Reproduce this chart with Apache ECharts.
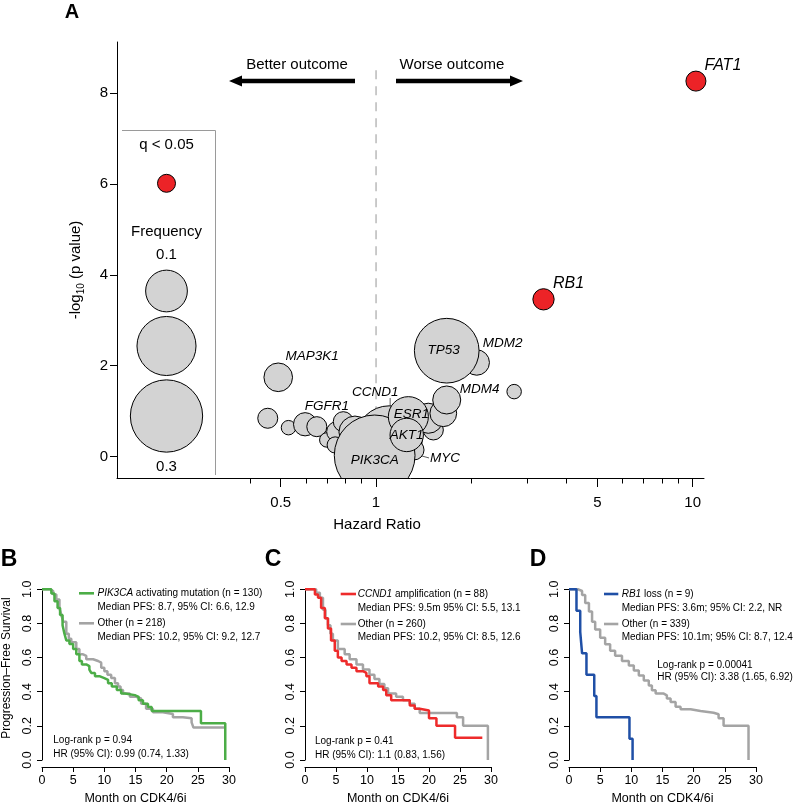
<!DOCTYPE html>
<html><head><meta charset="utf-8">
<script src="https://cdn.jsdelivr.net/npm/echarts@6/dist/echarts.min.js"></script>
<style>html,body{margin:0;padding:0;background:#fff}#c{width:800px;height:806px}</style>
</head><body><div id="c"></div>
<script>
// ================= DATA =================
// Panel A: gene-level Cox results (bubble chart)
const genes = ['', '', '', '', '', '', '', '', 'FGFR1', '', '', '', 'MDM4', 'CCND1', 'MYC', 'PIK3CA', 'ESR1', 'AKT1', 'MDM2', 'TP53', 'MAP3K1', '', 'RB1', 'FAT1'];
const hazardRatio = [0.455, 0.529, 0.597, 0.650, 0.699, 0.751, 0.788, 0.743, 0.858, 1.517, 1.462, 1.631, 1.672, 1.10, 1.318, 0.99, 1.265, 1.25, 2.08, 1.672, 0.491, 2.73, 3.38, 10.24];
const negLog10P   = [0.844, 0.637, 0.712, 0.659, 0.367, 0.549, 0.769, 0.257, 0.54, 0.587, 0.844, 0.954, 1.246, 0.387, 0.147, 0.027, 0.879, 0.477, 2.07, 2.33, 1.745, 1.43, 3.46, 8.26];
const frequency   = [0.023, 0.012, 0.031, 0.023, 0.012, 0.023, 0.023, 0.015, 0.059, 0.023, 0.052, 0.041, 0.045, 0.253, 0.023, 0.374, 0.092, 0.064, 0.037, 0.24, 0.047, 0.012, 0.026, 0.023];
const qSignificant = [0,0,0,0,0,0,0,0,0,0,0,0,0,0,0,0,0,0,0,0,0,0,1,1];
const legendFreqs = [0.1, 0.2, 0.3];
const yTicksA = [0, 2, 4, 6, 8];
const hrMajorTicks = [0.5, 1, 5, 10];
const hrMinorTicks = [0.4, 0.6, 0.7, 0.8, 0.9, 2, 3, 4, 6, 7, 8, 9];
const hrRange = [0.152, 10.86];
const negLogPRange = [-0.47, 9.12];
const refHR = 1;
const refLineTop = 8.5;

// Panel B: PIK3CA activating mutation vs other
const pik3caMonths = [0, 1.5, 2.0, 2.5, 2.9, 3.3, 3.6, 3.9, 4.4, 5.0, 5.5, 6.0, 6.4, 7.1, 7.6, 7.9, 8.5, 9.3, 10.0, 10.6, 11.2, 12.0, 12.7, 13.3, 14.9, 15.5, 16.2, 17.0, 17.6, 25.5, 29.4];
const pik3caSurv   = [1, 0.976, 0.93, 0.89, 0.85, 0.79, 0.74, 0.70, 0.68, 0.65, 0.62, 0.58, 0.56, 0.55, 0.53, 0.51, 0.49, 0.48, 0.47, 0.45, 0.43, 0.41, 0.39, 0.38, 0.37, 0.35, 0.33, 0.31, 0.287, 0.215, 0];
const otherBMonths = [0, 1.3, 1.8, 2.3, 2.8, 3.1, 3.4, 3.9, 4.3, 4.7, 5.5, 6.0, 6.5, 7.1, 8.2, 9.0, 9.5, 10.0, 10.5, 11.1, 11.7, 12.2, 12.6, 13.0, 14.1, 15.1, 15.9, 16.7, 17.8, 19.4, 21.0, 22.6, 24.0, 24.3, 29.4];
const otherBSurv   = [1, 0.99, 0.97, 0.94, 0.89, 0.85, 0.81, 0.74, 0.71, 0.69, 0.65, 0.62, 0.61, 0.59, 0.58, 0.57, 0.54, 0.52, 0.50, 0.48, 0.45, 0.43, 0.41, 0.39, 0.37, 0.36, 0.33, 0.30, 0.28, 0.27, 0.25, 0.245, 0.22, 0.19, 0.19];

// Panel C: CCND1 amplification vs other
const ccnd1Months = [0, 1.6, 2.1, 2.6, 3.2, 3.7, 4.2, 4.8, 5.3, 5.9, 6.7, 7.5, 8.3, 9.35, 9.9, 10.4, 11.8, 12.6, 13.1, 13.9, 16.9, 17.7, 18.5, 20.0, 21.2, 24.2, 28.6];
const ccnd1Surv   = [1, 0.97, 0.95, 0.89, 0.83, 0.77, 0.70, 0.64, 0.60, 0.58, 0.56, 0.54, 0.52, 0.51, 0.49, 0.45, 0.43, 0.41, 0.38, 0.35, 0.32, 0.30, 0.29, 0.245, 0.20, 0.13, 0.13];
const otherCMonths = [0, 1.8, 2.4, 2.9, 3.3, 3.7, 4.1, 4.5, 5.3, 6.4, 7.2, 8.3, 9.35, 10.4, 11.2, 12.0, 12.8, 13.4, 14.7, 15.8, 16.9, 17.7, 18.5, 24.5, 25.5, 29.5];
const otherCSurv   = [1, 0.98, 0.95, 0.88, 0.83, 0.79, 0.74, 0.70, 0.65, 0.62, 0.59, 0.56, 0.53, 0.50, 0.475, 0.445, 0.42, 0.39, 0.37, 0.35, 0.33, 0.30, 0.275, 0.25, 0.20, 0];

// Panel D: RB1 loss vs other
const rb1Months = [0, 1.2, 1.8, 2.1, 2.8, 4.05, 4.4, 9.7, 10.2];
const rb1Surv   = [1, 0.875, 0.75, 0.625, 0.5, 0.375, 0.25, 0.125, 0];
const otherDMonths = [0, 1.5, 2.1, 2.6, 3.2, 3.7, 4.2, 5.0, 5.8, 6.6, 7.4, 8.5, 9.6, 10.4, 11.2, 12.0, 12.8, 13.3, 13.9, 15.2, 15.7, 16.3, 17.1, 17.9, 19.5, 21.1, 23.2, 24.0, 24.8, 28.8];
const otherDSurv   = [1, 0.99, 0.967, 0.92, 0.87, 0.81, 0.765, 0.716, 0.678, 0.64, 0.61, 0.58, 0.553, 0.524, 0.495, 0.466, 0.437, 0.408, 0.389, 0.379, 0.36, 0.34, 0.312, 0.297, 0.287, 0.277, 0.268, 0.245, 0.20, 0];

const kmXTicks = [0, 30, 5];   // min, max, interval
const kmYTicks = [0, 1, 0.2];

// Text
const kmText = {
  B: {g1: '{i|PIK3CA} activating mutation (n = 130)', m1: 'Median PFS: 8.7, 95% CI: 6.6, 12.9', g2: 'Other (n = 218)', m2: 'Median PFS: 10.2, 95% CI: 9.2, 12.7', p: 'Log-rank p = 0.94', hr: 'HR (95% CI): 0.99 (0.74, 1.33)'},
  C: {g1: '{i|CCND1} amplification (n = 88)', m1: 'Median PFS: 9.5m 95% CI: 5.5, 13.1', g2: 'Other (n = 260)', m2: 'Median PFS: 10.2, 95% CI: 8.5, 12.6', p: 'Log-rank p = 0.41', hr: 'HR (95% CI): 1.1 (0.83, 1.56)'},
  D: {g1: '{i|RB1} loss (n = 9)', m1: 'Median PFS: 3.6m; 95% CI: 2.2, NR', g2: 'Other (n = 339)', m2: 'Median PFS: 10.1m; 95% CI: 8.7, 12.4', p: 'Log-rank p = 0.00041', hr: 'HR (95% CI): 3.38 (1.65, 6.92)'}
};

// ================= STYLE / LAYOUT =================
const FONT = '"Liberation Sans", Arial, Helvetica, sans-serif';
const GRAY_FILL = '#d3d3d3', RED = '#ec2327';
const C_GREEN = '#4cad47', C_RED = '#ee2b2b', C_BLUE = '#1f4fa6', C_GRAY = '#a4a4a4';
const SIZE_K = 132; // bubble diameter = SIZE_K * sqrt(freq)
const labelOffset = {FAT1:[27,-16], RB1:[25,-16], TP53:[-3,0], MDM2:[26,-19], MAP3K1:[34,-21], MDM4:[33,-11], CCND1:[-14,-47], FGFR1:[-28,-26], ESR1:[3,-2], AKT1:[0,0], PIK3CA:[0,5], MYC:[31,8]};
// leader line segments (pixel offsets from bubble centre): [x1, y1, x2, y2]
const leaderOffset = {CCND1:[1,-41,1,-32], FGFR1:[-10,-20,-4,-13], MYC:[4,5,15,8]};
const bigLabels = {FAT1:1, RB1:1};

const zip = (a, b) => a.map((v, i) => [v, b[i]]);
const lg = Math.log10;

const bubbleData = genes.map((g, i) => ({
  value: [lg(hazardRatio[i]), negLog10P[i]],
  name: g,
  itemStyle: {color: qSignificant[i] ? RED : GRAY_FILL, borderColor: '#000', borderWidth: 1, opacity: 1},
  label: {show: g !== '', fontSize: bigLabels[g] ? 16 : 13.5}
}));
const leaderGenes = genes.map((g, i) => i).filter(i => leaderOffset[genes[i]]);

// ---------- axes ----------
const axBlack = {color: '#000', width: 1};
const xAxes = [
  {gridIndex: 0, type: 'value', position: 'bottom', z: 10, min: lg(hrRange[0]), max: lg(hrRange[1]),
   axisLine: {onZero: false, lineStyle: axBlack},
   axisTick: {customValues: hrMajorTicks.map(lg), length: 9, lineStyle: axBlack},
   axisLabel: {customValues: hrMajorTicks.map(lg), color: '#000', fontSize: 15, fontFamily: FONT, margin: 17,
     formatter: v => String(parseFloat(Math.pow(10, v).toPrecision(2)))},
   splitLine: {show: false}},
  {gridIndex: 0, type: 'value', position: 'bottom', z: 10, min: lg(hrRange[0]), max: lg(hrRange[1]),
   axisLine: {show: false, onZero: false},
   axisTick: {customValues: hrMinorTicks.map(lg), length: 5.5, lineStyle: axBlack},
   axisLabel: {show: false}, splitLine: {show: false}}
];
const yAxes = [
  {gridIndex: 0, type: 'value', min: negLogPRange[0], max: negLogPRange[1],
   axisLine: {onZero: false, lineStyle: axBlack},
   axisTick: {customValues: yTicksA, length: 7, lineStyle: axBlack},
   axisLabel: {customValues: yTicksA, color: '#000', fontSize: 15, fontFamily: FONT, margin: 9},
   splitLine: {show: false}}
];
for (let k = 1; k <= 3; k++) {
  xAxes.push({gridIndex: k, type: 'value', min: kmXTicks[0], max: kmXTicks[1], interval: kmXTicks[2], offset: 7,
    axisLine: {onZero: false, lineStyle: axBlack}, axisTick: {length: 5, lineStyle: axBlack},
    axisLabel: {color: '#000', fontSize: 12.5, fontFamily: FONT, margin: 7},
    splitLine: {show: false},
    name: 'Month on CDK4/6i', nameLocation: 'middle', nameGap: 25,
    nameTextStyle: {color: '#000', fontSize: 12.5, fontFamily: FONT}});
  yAxes.push({gridIndex: k, type: 'value', min: kmYTicks[0], max: kmYTicks[1], interval: kmYTicks[2],
    axisLine: {onZero: false, lineStyle: axBlack}, axisTick: {length: 5, lineStyle: axBlack},
    axisLabel: {color: '#000', fontSize: 12.5, fontFamily: FONT, rotate: 90, margin: 8, formatter: v => v.toFixed(1)},
    splitLine: {show: false}});
}

function kmS(name, gi, t, s, color) {
  return {type: 'line', name, xAxisIndex: gi + 1, yAxisIndex: gi, data: zip(t, s), step: 'end',
    symbol: 'none', lineStyle: {color, width: 2.5}, itemStyle: {color}, silent: true, animation: false};
}

// ---------- graphics ----------
const G = [];
function txt(x, y, text, opt) {
  G.push(Object.assign({type: 'text', x, y, silent: true, z: 20,
    style: Object.assign({text, fill: '#000', fontFamily: FONT, fontSize: 15, align: 'center', verticalAlign: 'middle'}, opt || {})}));
}
// panel letters
txt(72, 12, 'A', {fontSize: 20, fontWeight: 'bold'});
txt(9, 560, 'B', {fontSize: 23, fontWeight: 'bold'});
txt(273, 560, 'C', {fontSize: 23, fontWeight: 'bold'});
txt(538, 560, 'D', {fontSize: 23, fontWeight: 'bold'});
// panel A axis titles
G.push({type: 'text', x: 76, y: 270, rotation: Math.PI / 2, silent: true, z: 20,
  style: {text: '-log{s|10} (p value)', fill: '#000', fontFamily: FONT, fontSize: 15, align: 'center', verticalAlign: 'middle',
    rich: {s: {fontSize: 10, fontFamily: FONT, padding: [10, 0, 0, 0]}}}});
txt(377, 525, 'Hazard Ratio', {fontSize: 15});
// arrows and direction text
txt(297, 65, 'Better outcome', {fontSize: 15});
txt(452, 65, 'Worse outcome', {fontSize: 15});
G.push({type: 'polygon', silent: true, z: 20, shape: {points: [[229,81],[242,75.5],[242,78.8],[355,78.8],[355,83.2],[242,83.2],[242,86.5]]}, style: {fill: '#000'}});
G.push({type: 'polygon', silent: true, z: 20, shape: {points: [[523,81],[510,75.5],[510,78.8],[396,78.8],[396,83.2],[510,83.2],[510,86.5]]}, style: {fill: '#000'}});
// panel A legend box
G.push({type: 'polyline', silent: true, z: 3, shape: {points: [[122,130.5],[215.5,130.5],[215.5,475]]}, style: {stroke: '#9a9a9a', lineWidth: 1, fill: null}});
txt(166.5, 145, 'q < 0.05', {fontSize: 15});
G.push({type: 'circle', silent: true, z: 3, shape: {cx: 166.5, cy: 183.3, r: 9}, style: {fill: RED, stroke: '#000', lineWidth: 1}});
txt(166.5, 231.5, 'Frequency', {fontSize: 15});
txt(166.5, 255, String(legendFreqs[0]), {fontSize: 15});
txt(166.5, 466.5, String(legendFreqs[2]), {fontSize: 15});
const legendCY = [291, 346, 416];
legendFreqs.forEach((f, i) => G.push({type: 'circle', silent: true, z: 3,
  shape: {cx: 166.5, cy: legendCY[i], r: SIZE_K / 2 * Math.sqrt(f)}, style: {fill: GRAY_FILL, stroke: '#000', lineWidth: 1}}));
// mask for bubbles overflowing below x-axis
G.push({type: 'rect', silent: true, z: 5, shape: {x: 300, y: 478.6, width: 160, height: 22}, style: {fill: '#fff'}});
// y title for KM
G.push({type: 'text', x: 7, y: 668, rotation: Math.PI / 2, silent: true, z: 20,
  style: {text: 'Progression\u2013Free Survival', fill: '#000', fontFamily: FONT, fontSize: 12, align: 'center', verticalAlign: 'middle'}});
// KM legends
function kmLegend(t, lx0, lx1, tx, rows, col, sx, sy) {
  G.push({type: 'line', silent: true, z: 20, shape: {x1: lx0, y1: rows[0], x2: lx1, y2: rows[0]}, style: {stroke: col, lineWidth: 2.6}});
  G.push({type: 'line', silent: true, z: 20, shape: {x1: lx0, y1: rows[2], x2: lx1, y2: rows[2]}, style: {stroke: C_GRAY, lineWidth: 2.6}});
  const o = {fontSize: 10, align: 'left', rich: {i: {fontStyle: 'italic', fontSize: 10, fontFamily: FONT}}};
  txt(tx, rows[0], t.g1, o);
  txt(tx, rows[1], t.m1, {fontSize: 10, align: 'left'});
  txt(tx, rows[2], t.g2, {fontSize: 10, align: 'left'});
  txt(tx, rows[3], t.m2, {fontSize: 10, align: 'left'});
  txt(sx, sy[0], t.p, {fontSize: 10, align: 'left'});
  txt(sx, sy[1], t.hr, {fontSize: 10, align: 'left'});
}
kmLegend(kmText.B, 79, 94, 97.5, [593.3, 607.3, 623.3, 636.8], C_GREEN, 53.3, [740.7, 754.3]);
kmLegend(kmText.C, 340.7, 356, 357.7, [594, 608, 624, 637.5], C_RED, 315, [741.7, 755]);
kmLegend(kmText.D, 604, 618.3, 621.7, [594, 608, 624, 637.5], C_BLUE, 657.3, [665.7, 677.7]);

const option = {
  animation: false,
  backgroundColor: '#fff',
  textStyle: {fontFamily: FONT},
  grid: [
    {left: 117, top: 42, right: 96, bottom: 328},
    {left: 42, top: 589.3, width: 187, height: 173},
    {left: 305, top: 589.3, width: 186, height: 173},
    {left: 569, top: 589.3, width: 187, height: 173}
  ],
  xAxis: xAxes,
  yAxis: yAxes,
  series: [
    {type: 'line', xAxisIndex: 0, yAxisIndex: 0, z: 1, silent: true, symbol: 'none',
     data: [[lg(refHR), refLineTop], [lg(refHR), negLogPRange[0]]],
     lineStyle: {color: '#a8a8a8', width: 1.2, type: [9, 7]}},
    {type: 'custom', xAxisIndex: 0, yAxisIndex: 0, z: 2, silent: true, clip: false,
     data: leaderGenes.map(i => [lg(hazardRatio[i]), negLog10P[i]]),
     renderItem: (params, api) => {
       const c = api.coord([api.value(0), api.value(1)]);
       const o = leaderOffset[genes[leaderGenes[params.dataIndex]]];
       return {type: 'line', shape: {x1: c[0] + o[0], y1: c[1] + o[1], x2: c[0] + o[2], y2: c[1] + o[3]},
               style: {stroke: '#333', lineWidth: 0.8}};
     }},
    {type: 'scatter', xAxisIndex: 0, yAxisIndex: 0, z: 2, silent: true,
     data: bubbleData,
     symbolSize: (v, p) => SIZE_K * Math.sqrt(frequency[p.dataIndex]),
     itemStyle: {opacity: 1},
     label: {position: 'inside', color: '#000', fontStyle: 'italic', fontFamily: FONT, formatter: p => p.name},
     labelLayout: p => { const o = labelOffset[genes[p.dataIndex]]; return o ? {dx: o[0], dy: o[1]} : {}; }},
    kmS('Other', 1, otherBMonths, otherBSurv, C_GRAY),
    kmS('PIK3CA', 1, pik3caMonths, pik3caSurv, C_GREEN),
    kmS('Other', 2, otherCMonths, otherCSurv, C_GRAY),
    kmS('CCND1', 2, ccnd1Months, ccnd1Surv, C_RED),
    kmS('Other', 3, otherDMonths, otherDSurv, C_GRAY),
    kmS('RB1', 3, rb1Months, rb1Surv, C_BLUE)
  ],
  graphic: {elements: G}
};
const chart = echarts.init(document.getElementById('c'));
chart.setOption(option);
</script></body></html>
